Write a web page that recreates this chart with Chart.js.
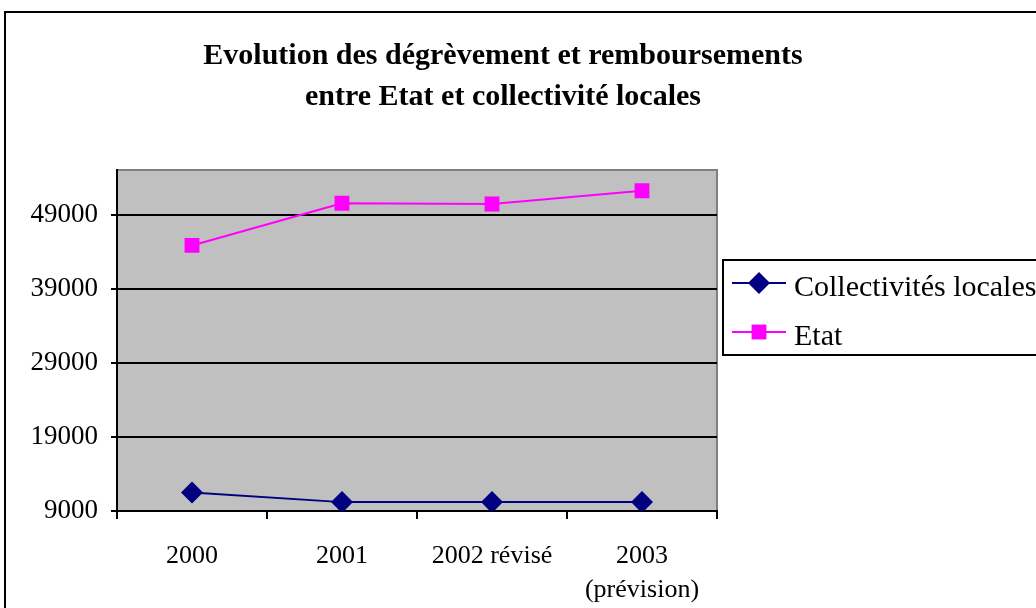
<!DOCTYPE html>
<html>
<head>
<meta charset="utf-8">
<script src="https://cdn.jsdelivr.net/npm/chart.js@4"></script>
<style>
  html, body { margin: 0; padding: 0; background: #fff; }
  #wrap { width: 1036px; height: 608px; }
</style>
</head>
<body>
<div id="wrap"><canvas id="chart" width="1036" height="608"></canvas></div>
<script>
// data
const categories = ['2000', '2001', '2002 révisé', ['2003', '(prévision)']];
const collectivites = [11500, 10200, 10200, 10200];
const etat = [44900, 50600, 50500, 52300];
const yTicks = [9000, 19000, 29000, 39000, 49000];
const titleLines = ['Evolution des dégrèvement et remboursements', 'entre Etat et collectivité locales'];

const serif = '"Liberation Serif", "Times New Roman", serif';

// frame, title, plot background and legend drawn around the chart
const decor = {
  id: 'decor',
  beforeDraw(chart) {
    const ctx = chart.ctx, a = chart.chartArea;
    ctx.save();
    ctx.fillStyle = '#fff';
    ctx.fillRect(0, 0, chart.width, chart.height);
    ctx.fillStyle = '#c0c0c0';
    ctx.fillRect(a.left, a.top, a.right - a.left, a.bottom - a.top);
    ctx.strokeStyle = '#808080';
    ctx.lineWidth = 2;
    ctx.beginPath();
    ctx.moveTo(a.left, a.top); ctx.lineTo(a.right, a.top); ctx.lineTo(a.right, a.bottom);
    ctx.stroke();
    // outer frame
    ctx.strokeStyle = '#000';
    ctx.lineWidth = 2;
    ctx.strokeRect(5, 12, 1200, 800);
    // title
    ctx.fillStyle = '#000';
    ctx.font = 'bold 30px ' + serif;
    ctx.textAlign = 'center';
    ctx.textBaseline = 'middle';
    ctx.fillText(titleLines[0], 503, 56);
    ctx.fillText(titleLines[1], 503, 97);
    ctx.restore();
  },
  afterDraw(chart) {
    const ctx = chart.ctx;
    ctx.save();
    ctx.fillStyle = '#fff';
    ctx.fillRect(723, 260, 400, 95);
    ctx.strokeStyle = '#000';
    ctx.lineWidth = 2;
    ctx.strokeRect(723, 260, 400, 95);
    const rows = [283, 332];
    chart.data.datasets.forEach((ds, i) => {
      const y = rows[i];
      ctx.strokeStyle = ds.borderColor;
      ctx.lineWidth = 2;
      ctx.beginPath(); ctx.moveTo(732, y); ctx.lineTo(786, y); ctx.stroke();
      ctx.fillStyle = ds.backgroundColor;
      Chart.helpers.drawPoint(ctx, {pointStyle: ds.pointStyle, radius: ds.pointRadius, rotation: 0, borderWidth: 0}, 759, y);
      ctx.fillStyle = '#000';
      ctx.font = '30px ' + serif;
      ctx.textAlign = 'left';
      ctx.textBaseline = 'middle';
      ctx.fillText(ds.label, 794, y + 5);
    });
    ctx.restore();
  }
};

new Chart(document.getElementById('chart'), {
  type: 'line',
  data: {
    labels: categories,
    datasets: [
      {
        label: 'Collectivités locales',
        data: collectivites,
        borderColor: '#000080',
        backgroundColor: '#000080',
        borderWidth: 2,
        pointStyle: 'rectRot',
        pointRadius: 11,
        pointBorderWidth: 0,
        tension: 0
      },
      {
        label: 'Etat',
        data: etat,
        borderColor: '#ff00ff',
        backgroundColor: '#ff00ff',
        borderWidth: 2,
        pointStyle: 'rect',
        pointRadius: 10.5,
        pointBorderWidth: 0,
        tension: 0
      }
    ]
  },
  options: {
    responsive: false,
    devicePixelRatio: 1,
    animation: false,
    layout: { padding: { left: 0, top: 170, right: 319, bottom: 0 } },
    plugins: { legend: { display: false }, title: { display: false }, tooltip: { enabled: false } },
    scales: {
      x: {
        type: 'category',
        offset: true,
        afterFit(scale) { scale.height = 97; },
        grid: { offset: true, drawOnChartArea: false, drawTicks: true, tickLength: 8, color: '#000', lineWidth: 2 },
        border: { display: true, color: '#000', width: 2 },
        ticks: { color: '#000', padding: 20, maxRotation: 0, autoSkip: false, font: { family: serif, size: 26, lineHeight: 1.3 } }
      },
      y: {
        min: 9000,
        max: 55100,
        afterFit(scale) { scale.width = 117; },
        afterBuildTicks(scale) { scale.ticks = yTicks.map(v => ({ value: v })); },
        grid: { drawOnChartArea: true, drawTicks: true, tickLength: 6, color: '#000', lineWidth: 2 },
        border: { display: true, color: '#000', width: 2 },
        ticks: { color: '#000', padding: 13, font: { family: serif, size: 27 }, callback: v => String(v) }
      }
    }
  },
  plugins: [decor]
});
</script>
</body>
</html>
